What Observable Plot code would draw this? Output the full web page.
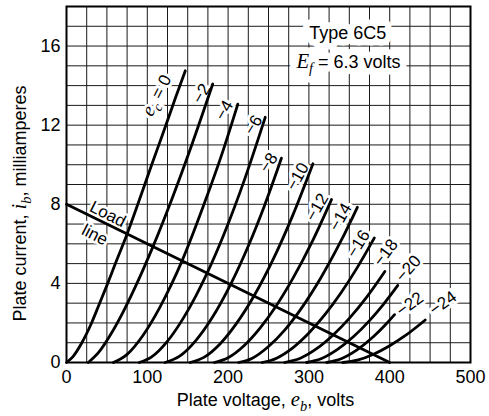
<!DOCTYPE html>
<html>
<head>
<meta charset="utf-8">
<script src="https://cdn.jsdelivr.net/npm/d3@7"></script>
<script src="https://cdn.jsdelivr.net/npm/@observablehq/plot@0.6"></script>
<style>
  html, body { margin: 0; padding: 0; background: #fff; }
</style>
</head>
<body>
<div id="chart"></div>
<script>
// ---- Data (plate voltage e_b in volts, plate current i_b in mA) ----
const gridBias = [0, -2, -4, -6, -8, -10, -12, -14, -16, -18, -20, -22, -24];
const curveLabels = ["e_c = 0", "−2", "−4", "−6", "−8", "−10", "−12", "−14", "−16", "−18", "−20", "−22", "−24"];

const ec0   = [[0,0],[8,0.3],[19,1],[31,2],[41,3],[50,3.9],[60,4.95],[75,6.5],[90,8.2],[105,9.95],[120,11.65],[135,13.4],[147,14.75]];
const ecM2  = [[27,0],[40,0.52],[55,1.44],[70,2.55],[85,3.81],[107,5.86],[130,8.22],[155,11.0],[181,14.08]];
const ecM4  = [[58,0],[75,0.41],[95,1.39],[115,2.75],[130,3.96],[143,5.14],[172,8.2],[192,10.5],[212,13.06]];
const ecM6  = [[90,0],[105,0.27],[125,1.08],[145,2.27],[160,3.36],[174,4.52],[195,6.5],[220,9.21],[246,12.4]];
const ecM8  = [[122,0],[140,0.32],[160,1.11],[180,2.25],[203,3.94],[225,5.89],[245,7.93],[266,10.33]];
const ecM10 = [[153,0],[170,0.26],[190,0.94],[210,1.95],[232,3.36],[255,5.15],[280,7.44],[305,10.05]];
const ecM12 = [[183,0],[200,0.24],[220,0.86],[240,1.76],[259,2.83],[280,4.24],[305,6.19],[328,8.24]];
const ecM14 = [[213,0],[230,0.22],[250,0.81],[270,1.64],[290,2.7],[315,4.3],[340,6.17],[360,7.85]];
const ecM16 = [[242,0],[260,0.22],[280,0.74],[300,1.49],[320,2.43],[340,3.54],[360,4.81],[381,6.3]];
const ecM18 = [[270,0],[290,0.23],[310,0.71],[330,1.39],[350,2.23],[372,3.33],[394,4.6]];
const ecM20 = [[297,0],[315,0.19],[335,0.65],[355,1.3],[375,2.12],[392,2.93],[410,3.9]];
const ecM22 = [[322,0],[340,0.19],[360,0.65],[380,1.31],[395,1.92],[406,2.42]];
const ecM24 = [[342,0],[360,0.12],[380,0.42],[400,0.85],[420,1.38],[444,2.15]];
const curves = [ec0, ecM2, ecM4, ecM6, ecM8, ecM10, ecM12, ecM14, ecM16, ecM18, ecM20, ecM22, ecM24];

// label anchor points (data units) and text angle for each curve label
const labelVolts = [112, 167, 195, 231, 250, 286, 310, 339, 361, 395, 423, 425, 466];
const labelMa    = [13.5, 13.6, 12.75, 12.0, 10.1, 9.4, 7.85, 7.35, 6.0, 5.55, 4.75, 2.95, 3.0];
const labelAngle = [-63, -60, -60, -58, -57, -61, -60, -60, -58, -53, -49, -36, -36];

const loadLineVolts = [0, 400];
const loadLineMa = [8, 0];

const noteTexts = ["Type 6C5", "E_f = 6.3 volts"];
const noteVolts = [348, 349];
const noteMa = [16.65, 15.2];

const loadTexts = ["Load", "line"];
const loadTextVolts = [51, 35];
const loadTextMa = [7.5, 6.45];

const xTicks = [0, 100, 200, 300, 400, 500];
const yTicks = [0, 4, 8, 12, 16];
const xGrid = d3.range(0, 501, 25);
const yGrid = d3.range(0, 18.5, 1);

// ---- tables built from the arrays ----
const curveRows = curves.flatMap((pts, k) => pts.map(([v, i]) => ({ec: gridBias[k], v, i})));
const labelRows = curveLabels.map((label, k) => ({label, v: labelVolts[k], i: labelMa[k], angle: labelAngle[k]}));
const loadRows = loadLineVolts.map((v, k) => ({v, i: loadLineMa[k]}));
const noteRows = noteTexts.map((label, k) => ({label, v: noteVolts[k], i: noteMa[k]}));
const loadTextRows = loadTexts.map((label, k) => ({label, v: loadTextVolts[k], i: loadTextMa[k]}));

const sans = "'Liberation Sans', Arial, Helvetica, sans-serif";

// halo layer underneath + ink layer above, so halos never cut neighbouring glyphs
function haloText(data, opts, halo) {
  return [
    Plot.text(data, {...opts, fill: "white", stroke: "white", strokeWidth: halo, strokeLinejoin: "round"}),
    Plot.text(data, {...opts, fill: "black"})
  ];
}

const chart = Plot.plot({
  width: 489,
  height: 416,
  marginLeft: 66,
  marginRight: 19,
  marginTop: 6,
  marginBottom: 54,
  style: {fontFamily: sans, fontSize: "18px", background: "white", color: "black"},
  x: {domain: [0, 500], ticks: xTicks, tickSize: 0, tickPadding: 8, label: null},
  y: {domain: [0, 18], ticks: yTicks, tickSize: 0, tickPadding: 6, label: null},
  marks: [
    Plot.ruleX(xGrid, {stroke: "#1a1a1a", strokeWidth: 1}),
    Plot.ruleY(yGrid, {stroke: "#1a1a1a", strokeWidth: 1}),
    ...haloText(labelRows, {x: "v", y: "i", text: "label", rotate: "angle", fontSize: 17}, 6),
    ...haloText(loadTextRows, {x: "v", y: "i", text: "label", rotate: 27, fontSize: 17}, 5),
    ...haloText(noteRows, {x: "v", y: "i", text: "label", fontSize: 18}, 13),
    // characteristic curves
    Plot.line(curveRows, {x: "v", y: "i", z: "ec", curve: "monotone-x", stroke: "black", strokeWidth: 2.8}),
    // load line
    Plot.line(loadRows, {x: "v", y: "i", stroke: "black", strokeWidth: 2.8}),
    Plot.frame({stroke: "black", strokeWidth: 2}),
    // axis titles
    Plot.text(["Plate current, i_b, milliamperes"], {frameAnchor: "left", text: d => d, rotate: -90,
      textAnchor: "middle", lineAnchor: "middle", dx: -46, dy: 19, fontSize: 18, fill: "black"}),
    Plot.text(["Plate voltage, e_b, volts"], {frameAnchor: "bottom", text: d => d,
      textAnchor: "middle", lineAnchor: "middle", dx: -3, dy: 38, fontSize: 18, fill: "black"})
  ]
});

// italic variable + subscript rendering for texts written as "x_y"
function richify(el) {
  const s = el.textContent;
  if (!s.includes("_")) return;
  const NS = "http://www.w3.org/2000/svg";
  while (el.firstChild) el.removeChild(el.firstChild);
  const add = (str, attrs) => {
    const t = document.createElementNS(NS, "tspan");
    t.textContent = str;
    for (const k in attrs) t.setAttribute(k, attrs[k]);
    el.appendChild(t);
  };
  const re = /([A-Za-z])_([a-z])/g;
  let last = 0, m, shifted = false;
  const serif = "'Liberation Serif', 'DejaVu Serif', serif";
  while ((m = re.exec(s))) {
    if (m.index > last) { add(s.slice(last, m.index), shifted ? {dy: "-5"} : {}); shifted = false; }
    add(m[1], Object.assign({"font-family": serif, "font-style": "italic", "font-size": "115%"}, shifted ? {dy: "-5"} : {}));
    add(m[2], {"font-family": serif, "font-style": "italic", "font-size": "80%", dy: "5"});
    shifted = true;
    last = re.lastIndex;
  }
  if (last < s.length) add(s.slice(last), shifted ? {dy: "-5"} : {});
}
chart.querySelectorAll("text").forEach(richify);

document.getElementById("chart").appendChild(chart);
</script>
</body>
</html>
